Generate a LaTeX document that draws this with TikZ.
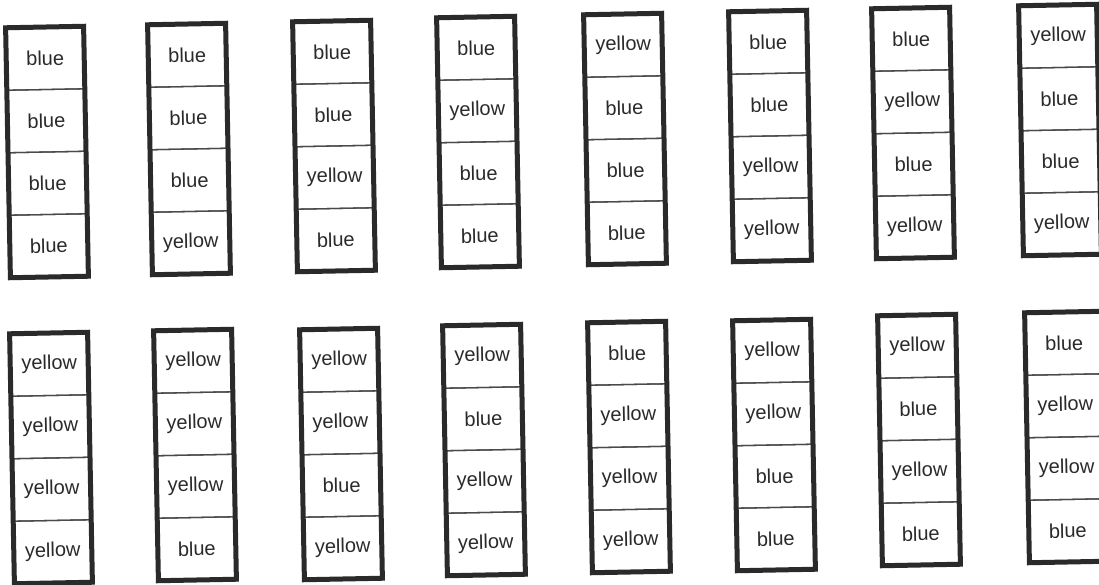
\documentclass[tikz,border=0pt]{standalone}
\usepackage{fontspec}
\setmainfont{Liberation Sans}
\definecolor{ink}{HTML}{2A2A2A}
\definecolor{rule}{HTML}{4A4A4A}
\tikzset{
  cellbox/.style={draw=rule, line width=1.3pt, minimum width=78pt, minimum height=62.5pt,
    inner sep=0pt, text=ink, font=\fontsize{20}{20}\selectfont, transform shape},
  framebox/.style={draw=ink, line width=5pt}
}
\newcommand\stripcol[7]{%
  \begin{scope}[shift={(#2,#3)}, rotate=1.1]
    \node[cellbox] (#1a) at (0,-93.75) {#4};
    \node[cellbox] (#1b) at (0,-31.25) {#5};
    \node[cellbox] (#1c) at (0,31.25) {#6};
    \node[cellbox] (#1d) at (0,93.75) {#7};
    \draw[framebox] (-39,-125) rectangle (39,125);
  \end{scope}}
\begin{document}
\begin{tikzpicture}[x=1pt,y=-1pt]
\useasboundingbox (0,0) rectangle (1099,584);
\fill[white] (0,0) rectangle (1099,584);
% top row
\stripcol{ta}{47}{152}{blue}{blue}{blue}{blue}
\stripcol{tb}{189}{149}{blue}{blue}{blue}{yellow}
\stripcol{tc}{334}{146}{blue}{blue}{yellow}{blue}
\stripcol{td}{478}{142}{blue}{yellow}{blue}{blue}
\stripcol{te}{625}{139}{yellow}{blue}{blue}{blue}
\stripcol{tf}{770}{136}{blue}{blue}{yellow}{yellow}
\stripcol{tg}{913}{133}{blue}{yellow}{blue}{yellow}
\stripcol{th}{1060}{130}{yellow}{blue}{blue}{yellow}
% bottom row
\stripcol{ba}{51}{458}{yellow}{yellow}{yellow}{yellow}
\stripcol{bb}{195}{455}{yellow}{yellow}{yellow}{blue}
\stripcol{bc}{341}{454}{yellow}{yellow}{blue}{yellow}
\stripcol{bd}{484}{450}{yellow}{blue}{yellow}{yellow}
\stripcol{be}{629}{447}{blue}{yellow}{yellow}{yellow}
\stripcol{bf}{774}{445}{yellow}{yellow}{blue}{blue}
\stripcol{bg}{919}{440}{yellow}{blue}{yellow}{blue}
\stripcol{bh}{1066}{437}{blue}{yellow}{yellow}{blue}
\end{tikzpicture}
\end{document}
